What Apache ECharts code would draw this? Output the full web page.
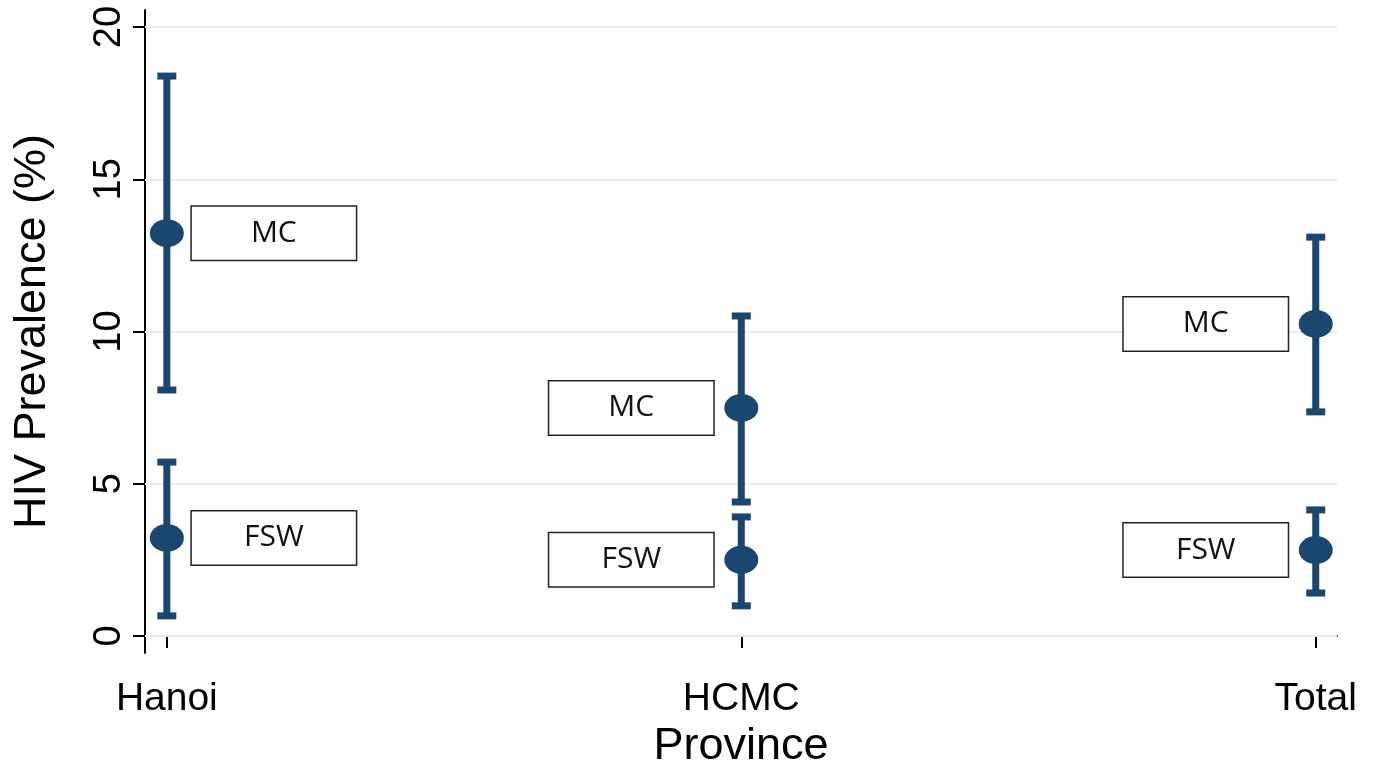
<!DOCTYPE html>
<html>
<head>
<meta charset="utf-8">
<script src="https://cdn.jsdelivr.net/npm/echarts@6/dist/echarts.min.js"></script>
<style>
html,body{margin:0;padding:0;background:#fff;}
#chart{width:1378px;height:768px;}
</style>
</head>
<body>
<div id="chart"></div>
<script>
const provinces = ['Hanoi', 'HCMC', 'Total'];
const groupNames = ['MC', 'FSW'];
const mcEstimate = [13.23, 7.49, 10.25];
const mcLower = [8.08, 4.40, 7.36];
const mcUpper = [18.39, 10.51, 13.10];
const fswEstimate = [3.22, 2.50, 2.82];
const fswLower = [0.66, 0.99, 1.41];
const fswUpper = [5.71, 3.91, 4.14];
const yTicks = [0, 5, 10, 15, 20];

const NAVY = '#1a476f';
const chart = echarts.init(document.getElementById('chart'));

const groups = [
  { name: groupNames[0], est: mcEstimate, lo: mcLower, hi: mcUpper },
  { name: groupNames[1], est: fswEstimate, lo: fswLower, hi: fswUpper }
];

const barData = [];
const pointData = [];
groups.forEach(g => {
  provinces.forEach((p, i) => {
    const x = i + 1;
    barData.push([x, g.lo[i], g.hi[i]]);
    const right = i === 0;
    pointData.push({
      value: [x, g.est[i]],
      name: g.name,
      label: { position: right ? 'right' : 'left', distance: right ? 8 : 11 }
    });
  });
});

function renderBar(params, api) {
  const x = api.value(0);
  const lo = api.coord([x, api.value(1)]);
  const hi = api.coord([x, api.value(2)]);
  const capW = 19, capH = 7, lw = 7;
  return {
    type: 'group',
    children: [
      { type: 'rect', shape: { x: lo[0] - lw / 2, y: hi[1], width: lw, height: lo[1] - hi[1] }, style: { fill: NAVY } },
      { type: 'rect', shape: { x: hi[0] - capW / 2, y: hi[1] - capH / 2, width: capW, height: capH }, style: { fill: NAVY } },
      { type: 'rect', shape: { x: lo[0] - capW / 2, y: lo[1] - capH / 2, width: capW, height: capH }, style: { fill: NAVY } }
    ]
  };
}

chart.setOption({
  animation: false,
  backgroundColor: '#fff',
  grid: { left: 145, right: 41, top: 10, bottom: 115, containLabel: false, outerBoundsMode: 'none' },
  xAxis: {
    type: 'value',
    min: 0.962,
    max: 3.037,
    name: 'Province',
    nameLocation: 'middle',
    nameGap: 68,
    nameTextStyle: { fontFamily: 'Liberation Sans', fontSize: 45, color: '#000' },
    axisLine: { show: true, lineStyle: { color: '#000', width: 2 } },
    axisTick: { show: true, customValues: [1, 2, 3], length: 12, lineStyle: { color: '#000', width: 2 } },
    axisLabel: {
      customValues: [1, 2, 3],
      formatter: v => provinces[Math.round(v) - 1],
      fontFamily: 'Liberation Sans', fontSize: 39, color: '#000', margin: 27
    },
    splitLine: { show: false }
  },
  yAxis: {
    type: 'value',
    min: -0.56,
    max: 20.56,
    name: 'HIV Prevalence (%)',
    nameLocation: 'middle',
    nameGap: 90,
    nameTextStyle: { fontFamily: 'Liberation Sans', fontSize: 45, color: '#000' },
    axisLine: { show: true, lineStyle: { color: '#000', width: 2 } },
    axisTick: { show: true, customValues: yTicks, length: 12, lineStyle: { color: '#000', width: 2 } },
    axisLabel: {
      customValues: yTicks,
      rotate: 90,
      fontFamily: 'Liberation Sans', fontSize: 38, color: '#000', margin: 16
    },
    splitLine: { show: false }
  },
  series: [
    {
      type: 'scatter',
      name: 'grid',
      data: [],
      silent: true,
      z: 1,
      markLine: {
        silent: true,
        symbol: 'none',
        z: 1,
        label: { show: false },
        emphasis: { disabled: true },
        lineStyle: { color: '#e3ecef', width: 2, type: 'solid' },
        data: yTicks.map(v => ({ yAxis: v }))
      }
    },
    {
      type: 'custom',
      name: 'CI',
      renderItem: renderBar,
      data: barData,
      z: 3
    },
    {
      type: 'scatter',
      name: 'Estimate',
      data: pointData,
      symbol: 'circle',
      symbolSize: [34, 28],
      itemStyle: { color: NAVY, opacity: 1 },
      z: 4,
      label: {
        show: true,
        formatter: p => '{b|' + p.name + '}',
        backgroundColor: '#fff',
        borderColor: '#222',
        borderWidth: 1.5,
        padding: 0,
        rich: {
          b: {
            fontFamily: 'Open Sans',
            fontSize: 30,
            color: '#111',
            width: 164,
            height: 53,
            lineHeight: 53,
            align: 'center',
            verticalAlign: 'middle'
          }
        }
      }
    }
  ]
});
</script>
</body>
</html>
